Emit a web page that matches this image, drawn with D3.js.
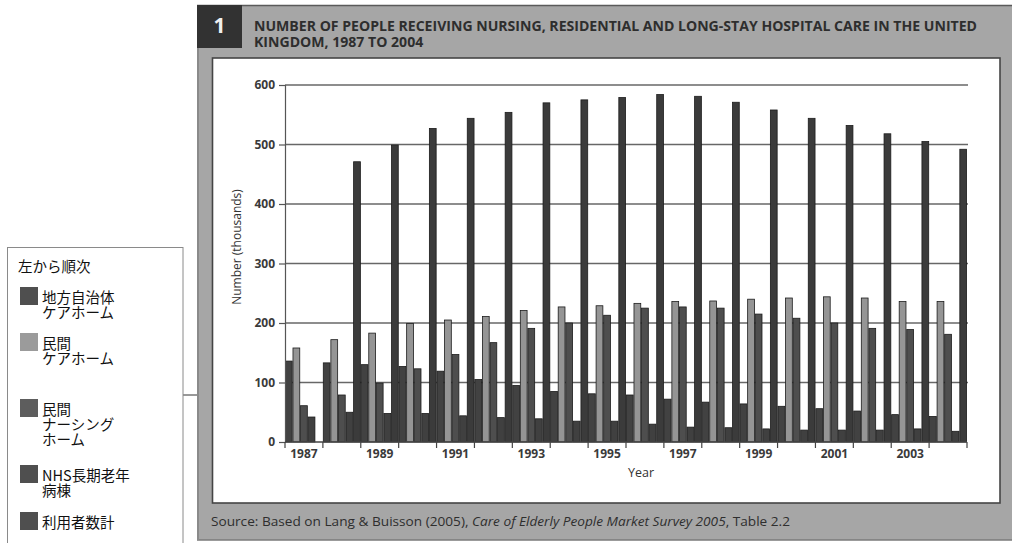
<!DOCTYPE html>
<html>
<head>
<meta charset="utf-8">
<script src="https://cdn.jsdelivr.net/npm/d3@7"></script>
<style>
  body { margin: 0; background: #fff; }
  #wrap { position: relative; width: 1012px; height: 543px; overflow: hidden; }
  svg { display: block; position: absolute; left: 0; top: 0; }
  .legend-label {
    position: absolute;
    font-family: 'Noto Sans CJK JP', 'Noto Sans', sans-serif;
    font-size: 14.5px;
    line-height: 15px;
    color: #111;
    white-space: nowrap;
  }
</style>
</head>
<body>
<div id="wrap">
<svg id="chart" width="1012" height="543"></svg>
</div>
<script>
// ---- data (thousands of people) ----
const years = [1987, 1988, 1989, 1990, 1991, 1992, 1993, 1994, 1995,
               1996, 1997, 1998, 1999, 2000, 2001, 2002, 2003, 2004];
const localAuthorityHomes = [136, 133, 130, 127, 119, 105, 95, 85, 81, 79, 72, 67, 64, 60, 56, 52, 46, 43];
const privateCareHomes    = [158, 172, 183, 199, 205, 211, 221, 227, 229, 233, 236, 237, 240, 242, 244, 242, 236, 236];
const privateNursingHomes = [61, 79, 99, 123, 147, 167, 191, 200, 213, 225, 227, 225, 215, 208, 200, 191, 189, 181];
const nhsLongStay         = [42, 50, 48, 48, 44, 41, 39, 35, 35, 30, 25, 24, 22, 20, 20, 20, 22, 18];
const totalPeople         = [null, 471, 499, 527, 544, 554, 570, 575, 579, 584, 581, 571, 558, 544, 532, 518, 505, 492];

const seriesKeys   = ["la", "pch", "pnh", "nhs", "total"];
const seriesValues = [localAuthorityHomes, privateCareHomes, privateNursingHomes, nhsLongStay, totalPeople];
const seriesFill   = ["#424242", "#959595", "#4e4e4e", "#404040", "#3b3b3b"];

const yTicks = [0, 100, 200, 300, 400, 500, 600];
const xLabelYears = [1987, 1989, 1991, 1993, 1995, 1997, 1999, 2001, 2003];

const titleLines = [
  "NUMBER OF PEOPLE RECEIVING NURSING, RESIDENTIAL AND LONG-STAY HOSPITAL CARE IN THE UNITED",
  "KINGDOM, 1987 TO 2004"
];
const yAxisTitle = "Number (thousands)";
const xAxisTitle = "Year";

const legendHeading = "左から順次";
const legendLabels = [
  ["地方自治体", "ケアホーム"],
  ["民間", "ケアホーム"],
  ["民間", "ナーシング", "ホーム"],
  ["NHS長期老年", "病棟"],
  ["利用者数計"]
];
const legendSwatch = ["#4f4f4f", "#9b9b9b", "#5d5d5d", "#4f4f4f", "#4f4f4f"];

// ---- drawing ----
const svg = d3.select("#chart");
const sansFont = "'Open Sans', 'DejaVu Sans', sans-serif";
const narrowFont = "'Liberation Sans Narrow', 'Open Sans', sans-serif";
const cjkFont = "'Noto Sans CJK JP', 'Noto Sans', sans-serif";

// grey panel
svg.append("rect")
  .attr("x", 197).attr("y", 5).attr("width", 820).attr("height", 535)
  .attr("fill", "#a6a6a6");
svg.append("line").attr("x1", 197).attr("x2", 1012).attr("y1", 5.5).attr("y2", 5.5)
  .attr("stroke", "#5a5a5a").attr("stroke-width", 1.5);
svg.append("line").attr("x1", 197).attr("x2", 1012).attr("y1", 540).attr("y2", 540)
  .attr("stroke", "#7a7a7a").attr("stroke-width", 1.5);
svg.append("line").attr("x1", 198).attr("x2", 198).attr("y1", 5).attr("y2", 540)
  .attr("stroke", "#8a8a8a").attr("stroke-width", 2);

// figure number box
svg.append("rect").attr("x", 197).attr("y", 5).attr("width", 45).attr("height", 43)
  .attr("fill", "#323232");
svg.append("text").attr("x", 219.5).attr("y", 33)
  .attr("text-anchor", "middle")
  .attr("font-family", sansFont).attr("font-weight", 700).attr("font-size", 21)
  .attr("fill", "#f0f0f0").text("1");

// title
const title1 = svg.append("text").attr("x", 254).attr("y", 30.7)
  .attr("font-family", narrowFont).attr("font-weight", 700).attr("font-size", 14.5)
  .attr("fill", "#2e2e2e").text(titleLines[0]);
const natural1 = title1.node().getComputedTextLength();
const titleScale = 723 / natural1;
title1.attr("textLength", 723).attr("lengthAdjust", "spacingAndGlyphs");
const title2 = svg.append("text").attr("x", 254).attr("y", 46.7)
  .attr("font-family", narrowFont).attr("font-weight", 700).attr("font-size", 14.5)
  .attr("fill", "#2e2e2e").text(titleLines[1]);
const natural2 = title2.node().getComputedTextLength();
title2.attr("textLength", natural2 * titleScale).attr("lengthAdjust", "spacingAndGlyphs");

// white plot box
svg.append("rect").attr("x", 212.5).attr("y", 58).attr("width", 787.5).attr("height", 445)
  .attr("fill", "#fff").attr("stroke", "#454545").attr("stroke-width", 1.6);

// scales
const x0 = d3.scaleBand().domain(years).range([285, 967]).padding(0);
const x1 = d3.scaleBand().domain(seriesKeys).range([0, x0.bandwidth()]).padding(0);
const y = d3.scaleLinear().domain([0, 600]).range([442, 85]);

// gridlines
svg.append("g").selectAll("line").data(yTicks.filter(d => d > 0)).join("line")
  .attr("x1", 285).attr("x2", 968)
  .attr("y1", d => y(d)).attr("y2", d => y(d))
  .attr("stroke", "#676767").attr("stroke-width", 1.4);

// bars
const groups = svg.append("g").selectAll("g").data(years).join("g")
  .attr("transform", d => `translate(${x0(d)},0)`);
groups.selectAll("rect")
  .data((yr, i) => seriesKeys.map((k, s) => ({ key: k, value: seriesValues[s][i], fill: seriesFill[s] }))
                              .filter(d => d.value != null))
  .join("rect")
  .attr("x", d => x1(d.key) + 0.4)
  .attr("width", x1.bandwidth() - 0.8)
  .attr("y", d => y(d.value))
  .attr("height", d => y(0) - y(d.value))
  .attr("fill", d => d.fill)
  .attr("stroke", "#1c1c1c").attr("stroke-width", 0.8);

// y axis
const yAxis = svg.append("g").attr("transform", "translate(285,0)")
  .call(d3.axisLeft(y).tickValues(yTicks).tickSize(6).tickPadding(4));
yAxis.select(".domain").attr("stroke", "#555").attr("stroke-width", 1.2);
yAxis.selectAll(".tick line").attr("stroke", "#555").attr("stroke-width", 1.2);
yAxis.selectAll(".tick text")
  .attr("font-family", sansFont).attr("font-weight", 700).attr("font-size", 12)
  .attr("fill", "#3a3a3a");

// x axis: line, boundary ticks, alternate-year labels
const xAxis = svg.append("g").attr("transform", `translate(0,${y(0)})`);
xAxis.append("line").attr("x1", 285).attr("x2", 967).attr("y1", 0).attr("y2", 0)
  .attr("stroke", "#444").attr("stroke-width", 1.4);
const boundaries = years.map(d => x0(d)).concat([x0(years[years.length - 1]) + x0.bandwidth()]);
xAxis.selectAll("line.tk").data(boundaries).join("line").attr("class", "tk")
  .attr("x1", d => d).attr("x2", d => d).attr("y1", 0).attr("y2", 6)
  .attr("stroke", "#444").attr("stroke-width", 1.2);
xAxis.selectAll("text").data(xLabelYears).join("text")
  .attr("x", d => x0(d) + x0.bandwidth() / 2).attr("y", 16)
  .attr("text-anchor", "middle")
  .attr("font-family", sansFont).attr("font-weight", 700).attr("font-size", 12)
  .attr("fill", "#3a3a3a").text(d => d);

// axis titles
svg.append("text").attr("transform", "translate(241,247) rotate(-90)")
  .attr("text-anchor", "middle")
  .attr("font-family", sansFont).attr("font-size", 12).attr("fill", "#333")
  .text(yAxisTitle);
svg.append("text").attr("x", 641).attr("y", 477)
  .attr("text-anchor", "middle")
  .attr("font-family", sansFont).attr("font-size", 12.5).attr("fill", "#333")
  .text(xAxisTitle);

// source line
const src = svg.append("text").attr("x", 211).attr("y", 526)
  .attr("font-family", sansFont).attr("font-size", 12.5).attr("fill", "#2e2e2e");
src.append("tspan").text("Source: Based on Lang & Buisson (2005), ");
src.append("tspan").attr("font-style", "italic").text("Care of Elderly People Market Survey 2005");
src.append("tspan").text(", Table 2.2");
src.attr("textLength", 579).attr("lengthAdjust", "spacingAndGlyphs");

// legend frame, connector and swatches
svg.append("line").attr("x1", 183).attr("x2", 197).attr("y1", 395).attr("y2", 395)
  .attr("stroke", "#333").attr("stroke-width", 1);
svg.append("rect").attr("x", 7.5).attr("y", 247.5).attr("width", 175.5).attr("height", 310)
  .attr("fill", "#fff").attr("stroke", "#8a8a8a").attr("stroke-width", 1);
svg.append("text").attr("x", 18).attr("y", 272)
  .attr("font-family", cjkFont).attr("font-size", 14.5).attr("fill", "#111")
  .text(legendHeading);

const swatchTops = [287, 333, 399, 465, 512];
svg.append("g").selectAll("rect").data(legendLabels).join("rect")
  .attr("x", 20).attr("y", (d, i) => swatchTops[i]).attr("width", 18).attr("height", 18)
  .attr("fill", (d, i) => legendSwatch[i]);

// legend labels as tightly set multi-line blocks
d3.select("#wrap").selectAll("div.legend-label").data(legendLabels).join("div")
  .attr("class", "legend-label")
  .style("left", "42px")
  .style("top", (d, i) => (swatchTops[i] + 1.5) + "px")
  .html(lines => lines.join("<br>"));
</script>
</body>
</html>
